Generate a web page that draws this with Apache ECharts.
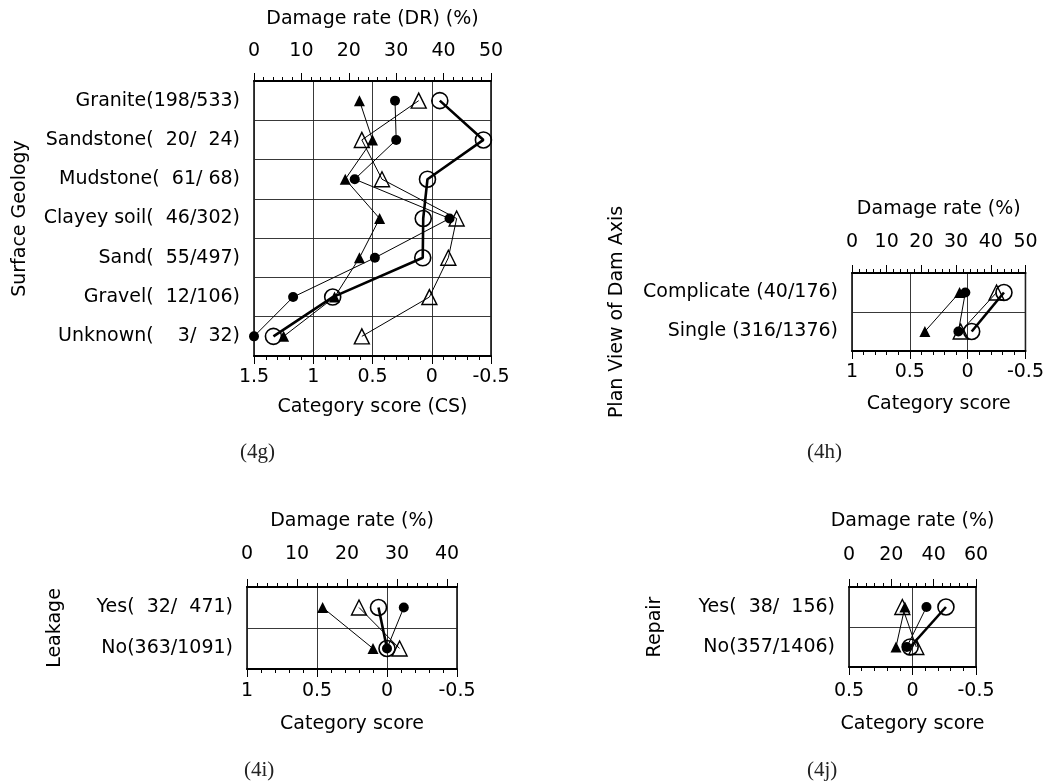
<!DOCTYPE html>
<html>
<head>
<meta charset="utf-8">
<script src="https://cdn.jsdelivr.net/npm/echarts@6/dist/echarts.min.js"></script>
<style>
  html, body { margin: 0; padding: 0; background: #fff; }
  #chart { width: 1047px; height: 782px; }
</style>
</head>
<body>
<div id="chart"></div>
<script>
// (4g) surface geology
const geoLabels = ['Granite(198/533)', 'Sandstone(  20/  24)', 'Mudstone(  61/ 68)', 'Clayey soil(  46/302)', 'Sand(  55/497)', 'Gravel(  12/106)', 'Unknown(    3/  32)'];
const geoDR = [39.2, 48.4, 36.6, 35.7, 35.6, 16.6, 4.1];          // open circle, thick line
const geoCS1 = [0.31, 0.30, 0.65, -0.15, 0.48, 1.17, 1.50];       // filled circle
const geoCS2 = [0.61, 0.50, 0.73, 0.44, 0.61, 0.82, 1.25];        // filled triangle
const geoCS3 = [0.11, 0.59, 0.42, -0.21, -0.14, 0.02, 0.59];      // open triangle
const geoDRTicks = [0, 10, 20, 30, 40, 50];

// (4h) plan view of dam axis
const planLabels = ['Complicate (40/176)', 'Single (316/1376)'];
const planDR = [43.8, 34.5];
const planCS1 = [0.02, 0.08];
const planCS2 = [0.07, 0.37];
const planCS3 = [-0.25, 0.06];
const planDRTicks = [0, 10, 20, 30, 40, 50];

// (4i) leakage
const leakLabels = ['Yes(  32/  471)', 'No(363/1091)'];
const leakDR = [26.3, 28.0];
const leakCS1 = [-0.12, 0.0];
const leakCS2 = [0.46, 0.10];
const leakCS3 = [0.20, -0.09];
const leakDRTicks = [0, 10, 20, 30, 40];

// (4j) repair
const repairLabels = ['Yes(  38/  156)', 'No(357/1406)'];
const repairDR = [45.8, 28.9];
const repairCS1 = [-0.11, 0.045];
const repairCS2 = [0.06, 0.13];
const repairCS3 = [0.08, -0.03];
const repairDRTicks = [0, 20, 40, 60];

const FONT = 'DejaVu Sans';
const FS = 19;

const panels = [
  { labels: geoLabels, dr: geoDR, cs: [geoCS1, geoCS2, geoCS3], drTicks: geoDRTicks, drMax: 50, csMin: -0.5, csMax: 1.5,
    yName: 'Surface Geology', drName: 'Damage rate (DR) (%)', csName: 'Category score (CS)',
    grid: { left: 254, top: 81, width: 237, height: 275 },
    topLabelGap: 20, topNameGap: 52, botLabelGap: 12, botNameGap: 42, yNameGap: 224 },
  { labels: planLabels, dr: planDR, cs: [planCS1, planCS2, planCS3], drTicks: planDRTicks, drMax: 50, csMin: -0.5, csMax: 1,
    yName: 'Plan View of Dam Axis', drName: 'Damage rate (%)', csName: 'Category score',
    grid: { left: 852, top: 273, width: 174, height: 78 },
    topLabelGap: 21, topNameGap: 54, botLabelGap: 12, botNameGap: 44, yNameGap: 225 },
  { labels: leakLabels, dr: leakDR, cs: [leakCS1, leakCS2, leakCS3], drTicks: leakDRTicks, drMax: 42, csMin: -0.5, csMax: 1,
    yName: 'Leakage', drName: 'Damage rate (%)', csName: 'Category score',
    grid: { left: 247, top: 587, width: 210, height: 82 },
    topLabelGap: 23, topNameGap: 56, botLabelGap: 13, botNameGap: 46, yNameGap: 182 },
  { labels: repairLabels, dr: repairDR, cs: [repairCS1, repairCS2, repairCS3], drTicks: repairDRTicks, drMax: 60, csMin: -0.5, csMax: 0.5,
    yName: 'Repair', drName: 'Damage rate (%)', csName: 'Category score',
    grid: { left: 849, top: 587, width: 127, height: 80 },
    topLabelGap: 22, topNameGap: 56, botLabelGap: 15, botNameGap: 48, yNameGap: 184 }
];

const textStyle = { fontFamily: FONT, fontSize: FS, color: '#000' };
const grids = [], xAxes = [], yAxes = [], series = [];

panels.forEach((p, i) => {
  grids.push(Object.assign({ show: true, borderColor: '#000', borderWidth: 1.5, backgroundColor: 'transparent' }, p.grid));
  const base = xAxes.length;
  const step = p.drTicks[1] - p.drTicks[0];
  const minors = [];
  for (let k = 1; k * step / 5 <= p.drMax + 1e-9; k++) {
    if (k % 5 !== 0) minors.push(+(k * step / 5).toFixed(3));
  }
  // top: damage rate, major ticks + labels
  xAxes.push({
    gridIndex: i, type: 'value', position: 'top', min: 0, max: p.drMax,
    name: p.drName, nameLocation: 'middle', nameGap: p.topNameGap, nameTextStyle: textStyle,
    axisLine: { show: true, lineStyle: { color: '#000', width: 2 } },
    axisTick: { show: true, length: 8, customValues: p.drTicks, lineStyle: { color: '#000', width: 1 } },
    axisLabel: { show: true, customValues: p.drTicks, margin: p.topLabelGap, fontFamily: FONT, fontSize: FS, color: '#000' },
    splitLine: { show: false }
  });
  // top: minor ticks
  xAxes.push({
    gridIndex: i, type: 'value', position: 'top', min: 0, max: p.drMax,
    axisLine: { show: false },
    axisTick: { show: true, length: 4, customValues: minors, lineStyle: { color: '#000', width: 1 } },
    axisLabel: { show: false },
    splitLine: { show: false }
  });
  // bottom: category score (reversed)
  xAxes.push({
    gridIndex: i, type: 'value', position: 'bottom', inverse: true, min: p.csMin, max: p.csMax, interval: 0.5,
    name: p.csName, nameLocation: 'middle', nameGap: p.botNameGap, nameTextStyle: textStyle,
    axisLine: { show: true, lineStyle: { color: '#000', width: 2 } },
    axisTick: { show: true, length: 8, lineStyle: { color: '#000', width: 1 } },
    minorTick: { show: true, splitNumber: 5, length: 4, lineStyle: { color: '#000', width: 1 } },
    axisLabel: { show: true, margin: p.botLabelGap, fontFamily: FONT, fontSize: FS, color: '#000' },
    splitLine: { show: true, lineStyle: { color: '#222', width: 0.9 } }
  });
  yAxes.push({
    gridIndex: i, type: 'category', inverse: true, data: p.labels,
    name: p.yName, nameLocation: 'middle', nameGap: p.yNameGap, nameRotate: 90, nameTextStyle: textStyle,
    axisLine: { show: false }, axisTick: { show: false },
    axisLabel: { margin: 14, fontFamily: FONT, fontSize: FS, color: '#000' },
    splitLine: { show: true, lineStyle: { color: '#222', width: 0.9 } }
  });

  const pts = arr => arr.map((v, k) => [v, k]);
  const thin = { color: '#000', width: 1 };
  series.push({
    type: 'line', xAxisIndex: base + 2, yAxisIndex: i, data: pts(p.cs[2]),
    symbol: 'triangle', symbolSize: 15, lineStyle: thin,
    itemStyle: { color: 'rgba(255,255,255,0)', borderColor: '#000', borderWidth: 1.4 }
  });
  series.push({
    type: 'line', xAxisIndex: base + 2, yAxisIndex: i, data: pts(p.cs[1]),
    symbol: 'triangle', symbolSize: 11, lineStyle: thin,
    itemStyle: { color: '#000', borderWidth: 0 }
  });
  series.push({
    type: 'line', xAxisIndex: base + 2, yAxisIndex: i, data: pts(p.cs[0]),
    symbol: 'circle', symbolSize: 10, lineStyle: thin,
    itemStyle: { color: '#000', borderWidth: 0 }
  });
  series.push({
    type: 'line', xAxisIndex: base, yAxisIndex: i, data: pts(p.dr),
    symbol: 'circle', symbolSize: 16, lineStyle: { color: '#000', width: 2.6 },
    itemStyle: { color: 'rgba(255,255,255,0)', borderColor: '#000', borderWidth: 1.6 }
  });
});

const captions = [
  { text: '(4g)', x: 240, y: 442 },
  { text: '(4h)', x: 807, y: 442 },
  { text: '(4i)', x: 244, y: 760 },
  { text: '(4j)', x: 807, y: 760 }
];

const chart = echarts.init(document.getElementById('chart'));
chart.setOption({
  animation: false,
  backgroundColor: '#fff',
  grid: grids,
  xAxis: xAxes,
  yAxis: yAxes,
  series: series,
  graphic: captions.map(c => ({
    type: 'text', left: c.x, top: c.y,
    style: { text: c.text, font: '21px "Liberation Serif", "DejaVu Serif", serif', fill: '#222' }
  }))
});
</script>
</body>
</html>
